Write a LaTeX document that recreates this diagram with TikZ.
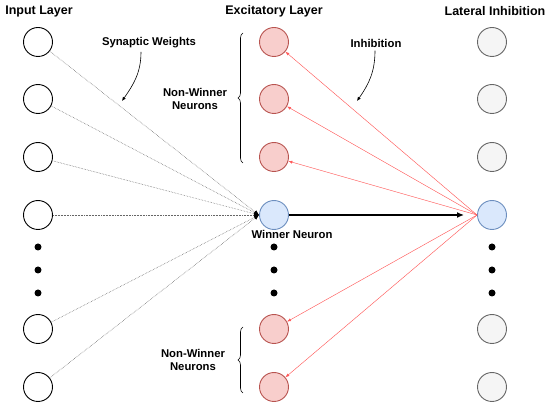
\documentclass[tikz,border=0pt]{standalone}
\usepackage{fontspec}
\setmainfont{Liberation Sans}
\usepackage{tikz}
\usetikzlibrary{arrows.meta,positioning,decorations.pathreplacing}
\definecolor{excfill}{HTML}{F8CECC}\definecolor{excline}{HTML}{B85450}
\definecolor{winfill}{HTML}{DAE8FC}\definecolor{winline}{HTML}{6C8EBF}
\definecolor{latfill}{HTML}{F5F5F5}\definecolor{latline}{HTML}{666666}
\definecolor{inhred}{HTML}{FF5A5A}
\begin{document}
\begin{tikzpicture}[x=1pt,y=-1pt,
  font=\bfseries\fontsize{11.3}{13.5}\selectfont,
  n/.style={circle,draw,line width=0.9pt,minimum size=29pt,inner sep=0pt},
  inp/.style={n,fill=white},
  exc/.style={n,fill=excfill,draw=excline},
  win/.style={n,fill=winfill,draw=winline},
  lat/.style={n,fill=latfill,draw=latline},
  dt/.style={circle,fill,inner sep=0pt,minimum size=7pt},
  hd/.style={font=\bfseries\fontsize{12.5}{15}\selectfont},
  w/.style={densely dotted,draw=black!60,line width=0.55pt,-{Latex[length=5pt,width=4pt,black]}},
  inh/.style={draw=inhred,line width=0.45pt,-{Latex[length=4pt,width=3pt]}},
  br/.style={decorate,decoration={brace,amplitude=5pt},line width=0.6pt}]
\useasboundingbox (0,0) rectangle (550,406);
\node[hd] (hin) at (39,11) {Input Layer};
\node[hd] (hex) at (274,11) {Excitatory Layer};
\node[hd] (hla) at (495,11) {Lateral Inhibition};
\node[inp] (i1) at (38,42) {};\node[inp] (i2) at (38,99) {};\node[inp] (i3) at (38,157) {};
\node[inp] (i4) at (38,215) {};\node[inp] (i5) at (38,329) {};\node[inp] (i6) at (38,387) {};
\node[exc] (e1) at (274,42) {};\node[exc] (e2) at (274,99) {};\node[exc] (e3) at (274,157) {};
\node[win] (e4) at (274,215) {};\node[exc] (e5) at (274,329) {};\node[exc] (e6) at (274,387) {};
\node[lat] (l1) at (492,42) {};\node[lat] (l2) at (492,99) {};\node[lat] (l3) at (492,157) {};
\node[win] (l4) at (492,215) {};\node[lat] (l5) at (492,329) {};\node[lat] (l6) at (492,387) {};
\node[dt] (di1) at (38,247) {};\node[dt] (di2) at (38,270) {};\node[dt] (di3) at (38,293) {};
\node[dt] (de1) at (274,247) {};\node[dt] (de2) at (274,270) {};\node[dt] (de3) at (274,293) {};
\node[dt] (dl1) at (492,247) {};\node[dt] (dl2) at (492,270) {};\node[dt] (dl3) at (492,293) {};
\node (wn) at (292,234) {Winner Neuron};
\node[align=center] (nw1) at (195,99) {Non-Winner\\Neurons};
\node[align=center] (nw2) at (193,360) {Non-Winner\\Neurons};
\node (sw) at (149,43) {Synaptic Weights};
\node (ih) at (376,43) {Inhibition};
\coordinate (swt) at (122,101);
\coordinate (iht) at (357,101);
\draw[w](i1)--(e4.west);\draw[w](i2)--(e4.west);\draw[w](i3)--(e4.west);
\draw[w](i4)--(e4.west);\draw[w](i5)--(e4.west);\draw[w](i6)--(e4.west);
\draw[inh](l4.west)--(e1);\draw[inh](l4.west)--(e2);\draw[inh](l4.west)--(e3);
\draw[inh](l4.west)--(e5);\draw[inh](l4.west)--(e6);
\draw[line width=1.4pt,-{Latex[length=7pt,width=6pt]},shorten >=13pt](e4)--(l4);
\draw[-{Latex[length=4pt,width=3.5pt]},line width=0.6pt]([xshift=-8pt]sw.south) to[out=-90,in=55] (swt);
\draw[-{Latex[length=4pt,width=3.5pt]},line width=0.6pt]([xshift=-1pt]ih.south) to[out=-90,in=55] (iht);
\draw[br](243,163)--(243,33);
\draw[br](243,393)--(243,327);
\end{tikzpicture}
\end{document}
